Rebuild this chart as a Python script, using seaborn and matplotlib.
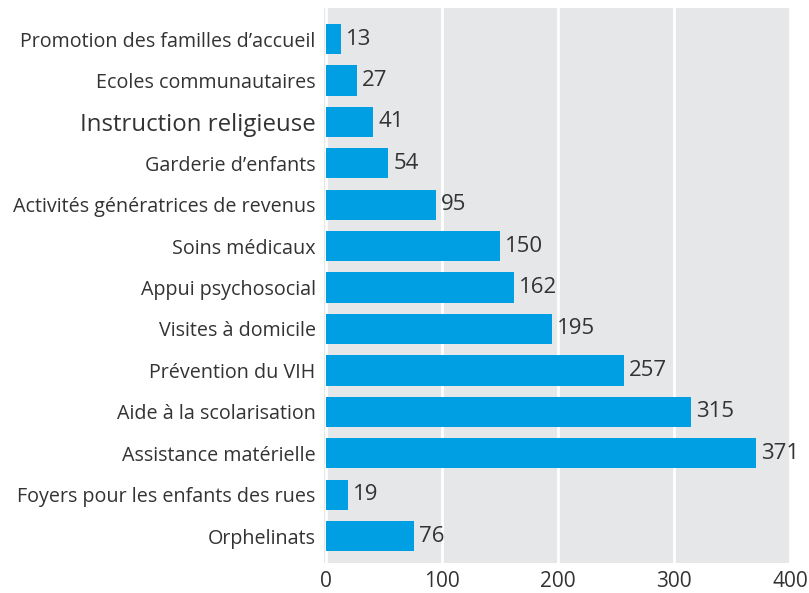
import matplotlib
matplotlib.use("Agg")
import matplotlib.pyplot as plt
import seaborn as sns
import pandas as pd

categories = [
    "Promotion des familles d’accueil",
    "Ecoles communautaires",
    "Instruction religieuse",
    "Garderie d’enfants",
    "Activités génératrices de revenus",
    "Soins médicaux",
    "Appui psychosocial",
    "Visites à domicile",
    "Prévention du VIH",
    "Aide à la scolarisation",
    "Assistance matérielle",
    "Foyers pour les enfants des rues",
    "Orphelinats",
]
values = [13, 27, 41, 54, 95, 150, 162, 195, 257, 315, 371, 19, 76]
x_ticks = [0, 100, 200, 300, 400]

sns.set_style("white")
plt.rcParams["font.family"] = ["Open Sans", "DejaVu Sans"]
text_col = "#333333"
bar_col = "#009fe3"

df = pd.DataFrame({"cat": categories, "val": values})

fig = plt.figure(figsize=(8.09, 5.93), dpi=100)
ax = fig.add_axes([0.4005, 0.0506, 0.576, 0.936])
ax.set_facecolor("#e6e7e9")

sns.barplot(data=df, y="cat", x="val", color=bar_col, saturation=1,
            width=0.73, linewidth=0, ax=ax, zorder=3)

ax.set_xlim(-1.5, 400)
ax.set_ylim(len(categories) - 1 + 0.65, -0.75)
ax.set_xticks(x_ticks)
ax.set_xticklabels([str(t) for t in x_ticks], fontsize=15, color=text_col)
ax.grid(axis="x", color="white", linewidth=2, zorder=1)
ax.set_axisbelow(True)
ax.set_xlabel("")
ax.set_ylabel("")
for s in ax.spines.values():
    s.set_visible(False)
ax.tick_params(axis="both", length=0)
ax.tick_params(axis="y", pad=6)
ax.tick_params(axis="x", pad=6)

for lbl in ax.get_yticklabels():
    lbl.set_color(text_col)
    lbl.set_fontsize(17.3 if lbl.get_text() == "Instruction religieuse" else 14.2)

for i, v in enumerate(values):
    ax.text(v + 4.5, i, str(v), va="center", ha="left", fontsize=16,
            color=text_col, zorder=4)

fig.savefig("out.png", dpi=100)
